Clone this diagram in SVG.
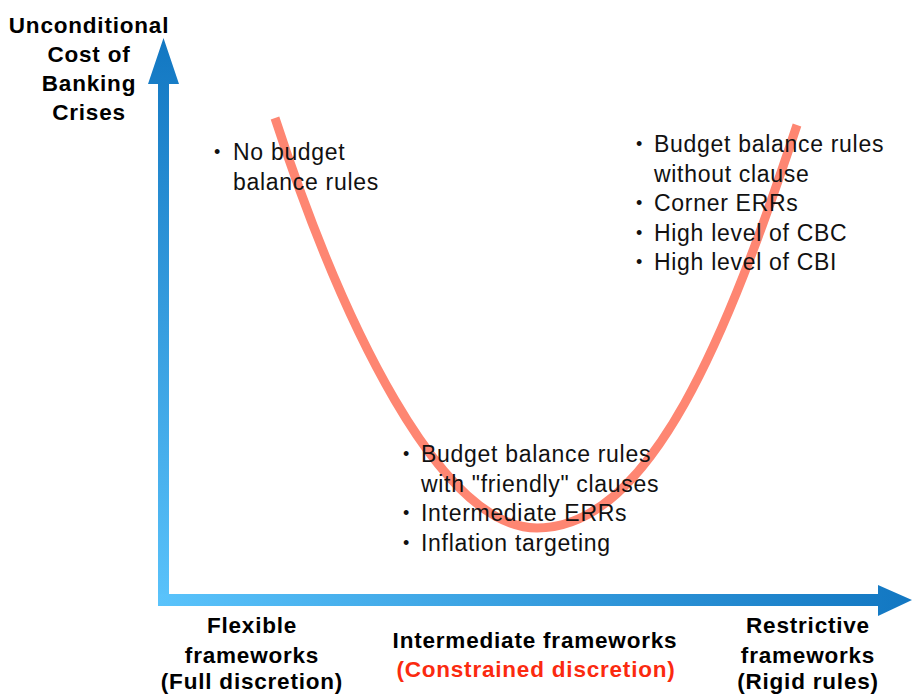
<svg xmlns="http://www.w3.org/2000/svg" width="914" height="695" viewBox="0 0 914 695">
<defs>
<linearGradient id="gv" gradientUnits="userSpaceOnUse" x1="0" y1="606" x2="0" y2="38">
<stop offset="0" stop-color="#5ac3fb"/>
<stop offset="1" stop-color="#1277c2"/>
</linearGradient>
<linearGradient id="gh" gradientUnits="userSpaceOnUse" x1="158" y1="0" x2="912" y2="0">
<stop offset="0" stop-color="#5ac3fb"/>
<stop offset="1" stop-color="#1277c2"/>
</linearGradient>
<style>
.t{font-family:"Liberation Sans",Arial,sans-serif;font-size:23px;fill:#111;letter-spacing:0.7px}
.b{font-family:"Liberation Sans",Arial,sans-serif;font-size:18px;fill:#111}
.h{font-family:"Liberation Sans",Arial,sans-serif;font-size:22.5px;font-weight:bold;fill:#000;letter-spacing:0.8px;text-anchor:middle}
.red{fill:#fb2a0f}
.curve{fill:none;stroke:#fe8672;stroke-width:9;stroke-linecap:butt}
</style>
</defs>
<rect width="914" height="695" fill="#fff"/>
<g id="axes">
<polygon fill="url(#gv)" points="158,606 158,84 148,84 163.5,38 179,84 169,84 169,606"/>
<polygon fill="url(#gh)" points="158,594 878,594 878,585 912,600 878,616 878,606 158,606"/>
</g>
<g id="connectors">
<path class="curve" d="M275,118 C342,323 440,528 537,528 C652,528 729,330 797,125"/>
</g>
<g id="y-title">
<text class="h" x="89" y="33">Unconditional</text>
<text class="h" x="89" y="62">Cost of</text>
<text class="h" x="89" y="91">Banking</text>
<text class="h" x="89" y="120">Crises</text>
</g>
<g id="left-list">
<text class="b" x="214" y="158">•</text>
<text class="t" x="233" y="160">No budget</text>
<text class="t" x="233" y="190">balance rules</text>
</g>
<g id="right-list">
<text class="b" x="636" y="150">•</text>
<text class="t" x="654" y="152">Budget balance rules</text>
<text class="t" x="654" y="181.5">without clause</text>
<text class="b" x="636" y="209">•</text>
<text class="t" x="654" y="211">Corner ERRs</text>
<text class="b" x="636" y="238.5">•</text>
<text class="t" x="654" y="240.5">High level of CBC</text>
<text class="b" x="636" y="268">•</text>
<text class="t" x="654" y="270">High level of CBI</text>
</g>
<g id="middle-list">
<text class="b" x="403" y="460">•</text>
<text class="t" x="421" y="462">Budget balance rules</text>
<text class="t" x="421" y="491.5">with "friendly" clauses</text>
<text class="b" x="403" y="519">•</text>
<text class="t" x="421" y="521">Intermediate ERRs</text>
<text class="b" x="403" y="548.5">•</text>
<text class="t" x="421" y="550.5">Inflation targeting</text>
</g>
<g id="x-left">
<text class="h" x="252" y="633">Flexible</text>
<text class="h" x="252" y="663">frameworks</text>
<text class="h" x="252" y="689">(Full discretion)</text>
</g>
<g id="x-middle">
<text class="h" x="535" y="648">Intermediate frameworks</text>
<text class="h red" x="536" y="677">(Constrained discretion)</text>
</g>
<g id="x-right">
<text class="h" x="808" y="633">Restrictive</text>
<text class="h" x="808" y="663">frameworks</text>
<text class="h" x="808" y="689">(Rigid rules)</text>
</g>
</svg>
